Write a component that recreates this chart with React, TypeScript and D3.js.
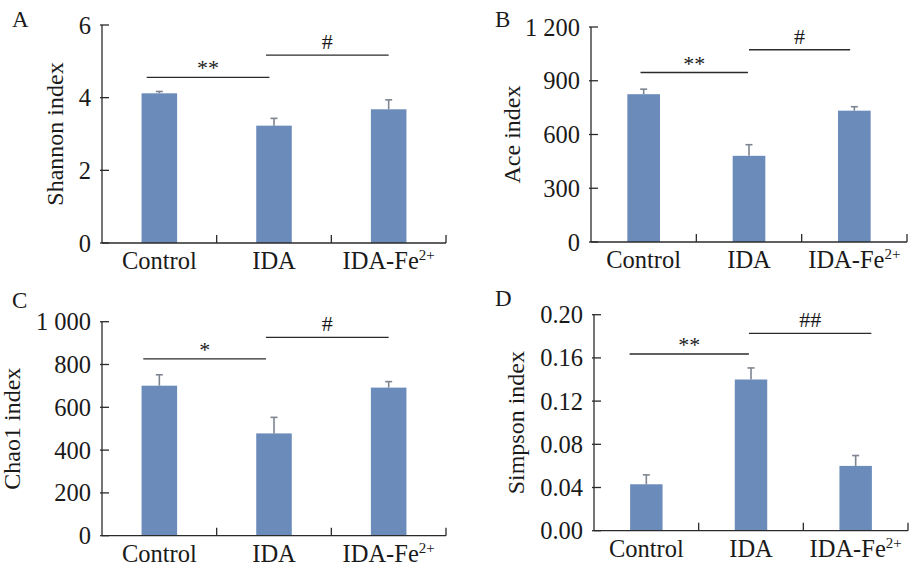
import React from "react";
import * as d3 from "d3";

// groups on the x axis
const groups = ["Control", "IDA", "IDA-Fe2+"];

// A: Shannon
const shannonMean = [4.12, 3.23, 3.68];
const shannonErr = [0.05, 0.2, 0.26];
const shannonTicks = [0, 2, 4, 6];

// B: Ace
const aceMean = [825, 481, 733];
const aceErr = [28, 62, 22];
const aceTicks = [0, 300, 600, 900, 1200];

// C: Chao1
const chaoMean = [701, 478, 692];
const chaoErr = [51, 75, 28];
const chaoTicks = [0, 200, 400, 600, 800, 1000];

// D: Simpson
const simpsonMean = [0.043, 0.14, 0.06];
const simpsonErr = [0.0087, 0.0107, 0.0096];
const simpsonTicks = [0, 0.04, 0.08, 0.12, 0.16, 0.2];

// significance brackets: [from, to] in category units, height in data units
const shannonSig = [
  { from: -0.11, to: 0.96, y: 4.56, label: "**" },
  { from: 0.93, to: 2.0, y: 5.17, label: "#" },
];
const aceSig = [
  { from: -0.03, to: 0.99, y: 946, label: "**" },
  { from: 1.0, to: 1.96, y: 1073, label: "#" },
];
const chaoSig = [
  { from: -0.14, to: 0.93, y: 826, label: "*" },
  { from: 0.93, to: 2.0, y: 927, label: "#" },
];
const simpsonSig = [
  { from: -0.16, to: 0.98, y: 0.1636, label: "**" },
  { from: 0.98, to: 2.15, y: 0.1828, label: "##" },
];

const fmtSpace = (v: number) =>
  v >= 1000 ? `${Math.floor(v / 1000)} ${String(v % 1000).padStart(3, "0")}` : String(v);

const panels = [
  {
    letter: "A", letterX: 12, letterY: 27, title: "Shannon index", titleX: 63,
    x0: 102, x1: 446, yTop: 25, y0: 243, max: 6,
    mean: shannonMean, err: shannonErr, ticks: shannonTicks, fmt: (v: number) => String(v), sig: shannonSig,
  },
  {
    letter: "B", letterX: 495, letterY: 27, title: "Ace index", titleX: 520,
    x0: 591, x1: 907, yTop: 27, y0: 242, max: 1200,
    mean: aceMean, err: aceErr, ticks: aceTicks, fmt: fmtSpace, sig: aceSig,
  },
  {
    letter: "C", letterX: 12, letterY: 308, title: "Chao1 index", titleX: 20,
    x0: 102, x1: 446, yTop: 321.7, y0: 535.7, max: 1000,
    mean: chaoMean, err: chaoErr, ticks: chaoTicks, fmt: fmtSpace, sig: chaoSig,
  },
  {
    letter: "D", letterX: 495, letterY: 306, title: "Simpson index", titleX: 524,
    x0: 594, x1: 908, yTop: 314.7, y0: 530.7, max: 0.2,
    mean: simpsonMean, err: simpsonErr, ticks: simpsonTicks, fmt: d3.format(".2f"), sig: simpsonSig,
  },
];

const FONT = "'Liberation Serif', 'Times New Roman', serif";
const BAR = "#6b8cbb";
const AXIS = "#2b2b2b";
const FS = 24.5;

function GroupLabel({ name, x, y }: { name: string; x: number; y: number }) {
  if (name.endsWith("2+")) {
    return (
      <text x={x} y={y} textAnchor="middle" fontSize={FS}>
        {name.slice(0, -2)}
        <tspan fontSize={15} dy={-9}>2+</tspan>
      </text>
    );
  }
  return (
    <text x={x} y={y} textAnchor="middle" fontSize={FS}>
      {name}
    </text>
  );
}

function Panel({ p }: { p: (typeof panels)[number] }) {
  const x = d3.scaleBand<string>().domain(groups).range([p.x0, p.x1]).paddingInner(0.69).paddingOuter(0.345);
  const y = d3.scaleLinear().domain([0, p.max]).range([p.y0, p.yTop]);
  const step = x.step();
  const cx = (i: number) => (x(groups[0]) as number) + x.bandwidth() / 2 + i * step;
  const mid = (p.y0 + p.yTop) / 2;

  return (
    <g fontFamily={FONT} fill="#1a1a1a">
      <text x={p.letterX} y={p.letterY} fontSize={23}>{p.letter}</text>
      <text transform={`translate(${p.titleX},${mid}) rotate(-90)`} textAnchor="middle" fontSize={24}>
        {p.title}
      </text>

      {/* bars */}
      {groups.map((g, i) => (
        <rect key={g} x={x(g)} y={y(p.mean[i])} width={x.bandwidth()} height={p.y0 - y(p.mean[i])} fill={BAR} />
      ))}
      {/* upper error bars */}
      {groups.map((g, i) => {
        const c = (x(g) as number) + x.bandwidth() / 2;
        return (
          <g key={g + "e"} stroke="#7d8590" strokeWidth={1.6}>
            <line x1={c} x2={c} y1={y(p.mean[i])} y2={y(p.mean[i] + p.err[i])} />
            <line x1={c - 3.5} x2={c + 3.5} y1={y(p.mean[i] + p.err[i])} y2={y(p.mean[i] + p.err[i])} />
          </g>
        );
      })}

      {/* axes */}
      <g stroke={AXIS} strokeWidth={1.3} fill="none">
        <line x1={p.x0} x2={p.x0} y1={p.yTop} y2={p.y0} />
        <line x1={p.x0} x2={p.x1} y1={p.y0} y2={p.y0} />
        {p.ticks.map((t) => (
          <line key={t} x1={p.x0 - 2} x2={p.x0 + 7} y1={y(t)} y2={y(t)} />
        ))}
        {groups.map((g, i) => (
          <line key={g} x1={p.x0 + step * (i + 1)} x2={p.x0 + step * (i + 1)} y1={p.y0} y2={p.y0 - 8} />
        ))}
      </g>
      {p.ticks.map((t) => (
        <text key={t} x={p.x0 - 11} y={y(t)} dy="0.35em" textAnchor="end" fontSize={FS}>
          {p.fmt(t)}
        </text>
      ))}
      {groups.map((g) => (
        <GroupLabel key={g} name={g} x={(x(g) as number) + x.bandwidth() / 2} y={p.y0 + 26} />
      ))}

      {/* significance marks */}
      {p.sig.map((s) => {
        const a = cx(s.from);
        const b = cx(s.to);
        const ly = y(s.y);
        return (
          <g key={s.label + s.from}>
            <line x1={a} x2={b} y1={ly} y2={ly} stroke={AXIS} strokeWidth={1.3} />
            <text x={(a + b) / 2} y={ly - (s.label.startsWith("#") ? 6 : 2)} textAnchor="middle" fontSize={22}>
              {s.label}
            </text>
          </g>
        );
      })}
    </g>
  );
}

export default function App() {
  return (
    <svg width={909} height={568} style={{ position: "absolute", left: 0, top: 0, background: "#fff" }}>
      <rect width={909} height={568} fill="#fff" />
      {panels.map((p) => (
        <Panel key={p.letter} p={p} />
      ))}
    </svg>
  );
}
